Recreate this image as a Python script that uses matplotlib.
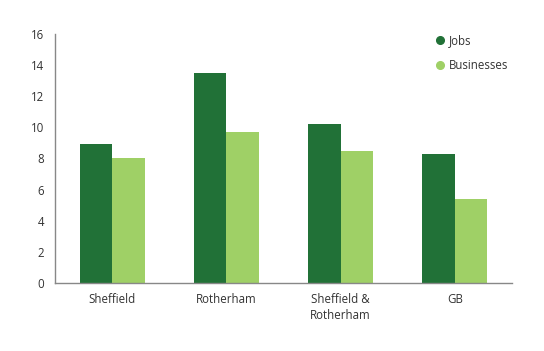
import numpy as np
import matplotlib.pyplot as plt
from matplotlib.lines import Line2D

# data
areas = ['Sheffield', 'Rotherham', 'Sheffield &\nRotherham', 'GB']
jobs = [8.9, 13.5, 10.2, 8.3]
businesses = [8.0, 9.7, 8.5, 5.4]

dark = '#217137'
light = '#9fd066'

plt.rcParams['font.family'] = ['Open Sans', 'DejaVu Sans']

fig = plt.figure(figsize=(5.44, 3.51), dpi=100)
ax = fig.add_axes([0.101, 0.194, 0.84, 0.709])

x = np.arange(len(areas))
w = 0.285
ax.bar(x - w / 2, jobs, w, color=dark)
ax.bar(x + w / 2, businesses, w, color=light)

ax.set_xlim(-0.5, 3.5)
ax.set_ylim(0, 16)
ax.set_yticks(range(0, 17, 2))
ax.set_xticks(x)
ax.set_xticklabels(areas, fontsize=8.3, color='#333333', va='top', linespacing=1.3)
ax.tick_params(axis='y', labelsize=8.3, colors='#333333', length=0, pad=8)
ax.tick_params(axis='x', length=0, pad=7)

for s in ['top', 'right']:
    ax.spines[s].set_visible(False)
for s in ['left', 'bottom']:
    ax.spines[s].set_color('#888888')
    ax.spines[s].set_linewidth(1)

handles = [Line2D([], [], marker='o', ls='', color=dark, markersize=5.5),
           Line2D([], [], marker='o', ls='', color=light, markersize=5.5)]
ax.legend(handles, ['Jobs', 'Businesses'], loc='upper left',
          bbox_to_anchor=(0.805, 1.04), frameon=False, fontsize=8.3,
          handletextpad=0.2, labelspacing=1.0, handlelength=1.2, labelcolor='#333333')

fig.savefig('out.png', dpi=100)
